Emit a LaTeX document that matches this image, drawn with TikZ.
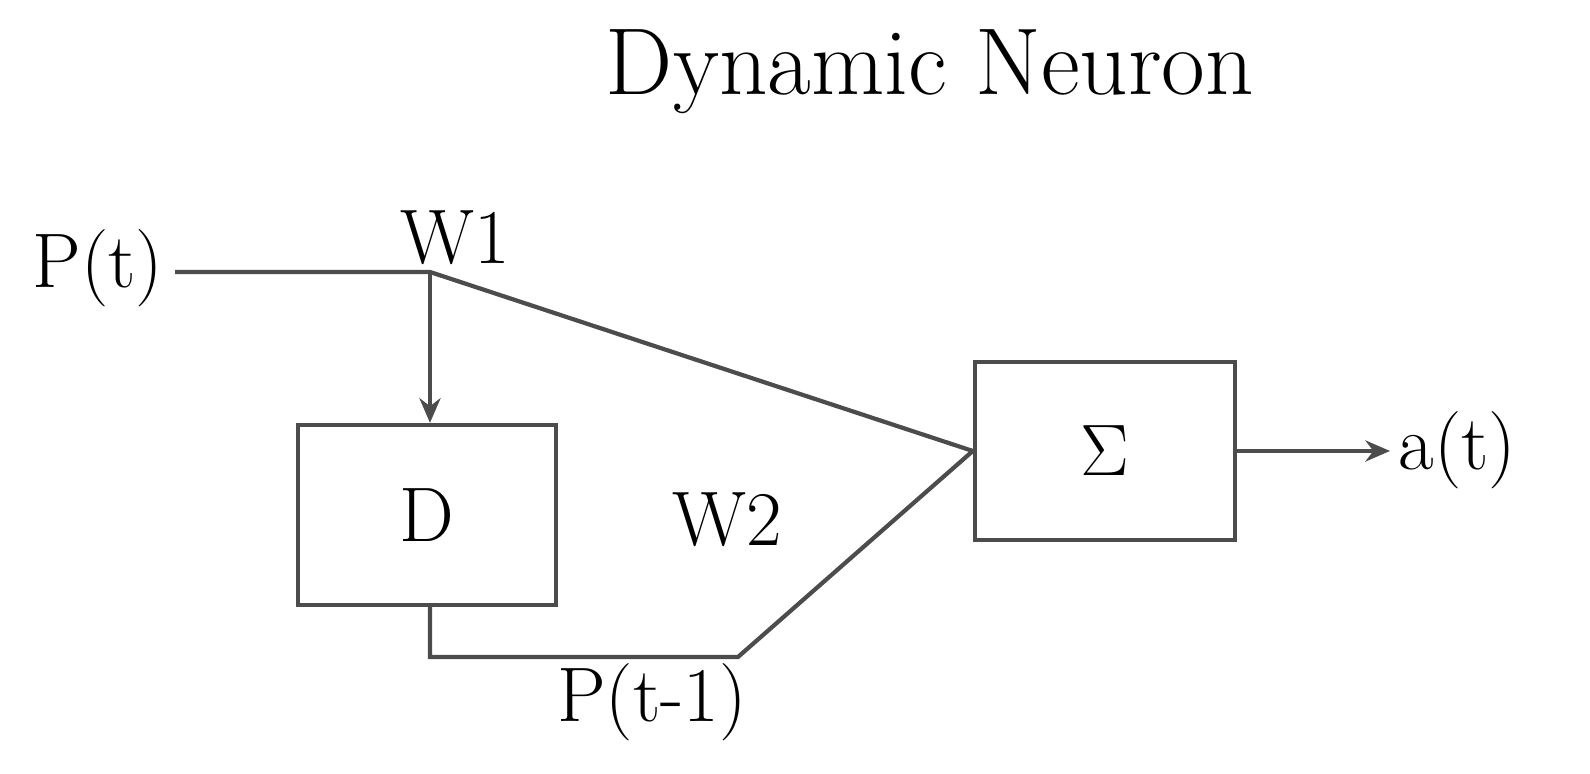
\documentclass[tikz,border=0pt]{standalone}
\usetikzlibrary{arrows.meta}
\begin{document}
\begin{tikzpicture}[x=0.01cm,y=-0.01cm,
  ln/.style={draw=black!70,line width=1.2pt},
  box/.style={ln,fill=white,inner sep=0pt,font=\fontsize{22}{26}\selectfont},
  lbl/.style={font=\fontsize{22}{26}\selectfont,inner sep=0pt},
  arr/.style={ln,-{Stealth[length=7pt,width=6pt]}}]
\useasboundingbox (0,0) rectangle (1590,774);
\node[font=\fontsize{27}{32}\selectfont] (title) at (930,72) {Dynamic Neuron};
\node[lbl] (pt) at (98,268) {P(t)};
\node[lbl] (w1) at (455,238) {W1};
\node[lbl] (w2) at (727,520) {W2};
\node[lbl] (pt1) at (652,702) {P(t-1)};
\node[box,minimum width=2.58cm,minimum height=1.8cm] (D) at (427,515) {D};
\node[box,minimum width=2.6cm,minimum height=1.78cm] (S) at (1105,451) {$\Sigma$};
\node[lbl,anchor=west] (at) at (1398,450) {a(t)};
\coordinate (ps) at (175,272);
\coordinate (j) at (430,272);
\coordinate (c1) at (430,657);
\coordinate (c2) at (738,657);
\coordinate (aend) at (1390,451);
\draw[ln] (ps) -- (j) -- (S.west);
\draw[arr] (j) -- (j |- D.north);
\draw[ln] (c1 |- D.south) -- (c1) -- (c2) -- (S.west);
\draw[arr] (S.east) -- (aend);
\end{tikzpicture}
\end{document}
